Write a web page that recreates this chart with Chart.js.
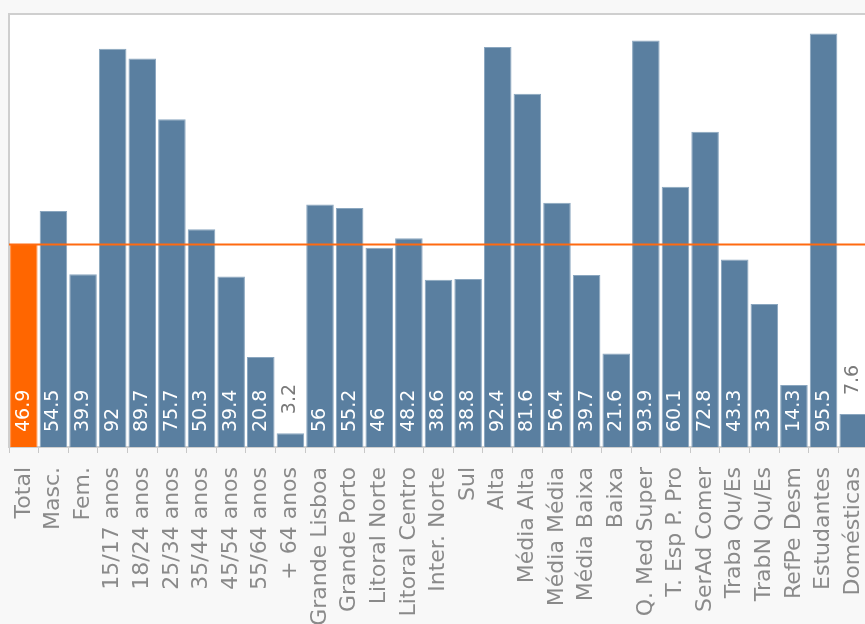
<!DOCTYPE html>
<html>
<head>
<meta charset="utf-8">
<script src="https://cdn.jsdelivr.net/npm/chart.js@4.4.1/dist/chart.umd.min.js"></script>
<style>
  html, body { margin: 0; padding: 0; background: #f8f8f8; overflow: hidden; }
  #wrap { position: absolute; left: 0; top: 0; width: 880px; height: 624px; }
</style>
</head>
<body>
<div id="wrap"><canvas id="c" width="880" height="624"></canvas></div>
<script>
// Categories shown along the x axis
const categories = [
  'Total', 'Masc.', 'Fem.',
  '15/17 anos', '18/24 anos', '25/34 anos', '35/44 anos', '45/54 anos', '55/64 anos', '+ 64 anos',
  'Grande Lisboa', 'Grande Porto', 'Litoral Norte', 'Litoral Centro', 'Inter. Norte', 'Sul',
  'Alta', 'Média Alta', 'Média Média', 'Média Baixa', 'Baixa',
  'Q. Med Super', 'T. Esp P. Pro', 'SerAd Comer', 'Traba Qu/Es', 'TrabN Qu/Es', 'RefPe Desm',
  'Estudantes', 'Domésticas'
];

// Percentage for each category
const values = [
  46.9, 54.5, 39.9,
  92, 89.7, 75.7, 50.3, 39.4, 20.8, 3.2,
  56, 55.2, 46, 48.2, 38.6, 38.8,
  92.4, 81.6, 56.4, 39.7, 21.6,
  93.9, 60.1, 72.8, 43.3, 33, 14.3,
  95.5, 7.6
];

// Reference level drawn as a horizontal line (the overall total)
const totalValue = values[0];

const TOTAL_COLOR = '#ff6600';
const BAR_COLOR = '#5a7fa0';
const FONT = '"DejaVu Sans", Verdana, sans-serif';

// Light page background with a white, framed plot area
const framePlugin = {
  id: 'frame',
  beforeDraw(chart) {
    const { ctx, chartArea: a } = chart;
    ctx.save();
    ctx.fillStyle = '#f8f8f8';
    ctx.fillRect(0, 0, chart.width, chart.height);
    ctx.fillStyle = '#ffffff';
    ctx.fillRect(a.left, a.top, a.right - a.left, a.bottom - a.top);
    ctx.strokeStyle = '#cfcfcf';
    ctx.lineWidth = 2;
    ctx.strokeRect(a.left, a.top, a.right - a.left, a.bottom - a.top);
    ctx.restore();
  }
};

// Horizontal line at the total level, drawn over the bars
const totalLinePlugin = {
  id: 'totalLine',
  afterDatasetsDraw(chart) {
    const { ctx, chartArea: a, scales: { y } } = chart;
    const py = Math.round(y.getPixelForValue(totalValue)) + 0.5;
    ctx.save();
    ctx.strokeStyle = '#ff6a10';
    ctx.lineWidth = 2;
    ctx.beginPath();
    ctx.moveTo(a.left, py);
    ctx.lineTo(a.right, py);
    ctx.stroke();
    ctx.restore();
  }
};

// Vertical value labels: inside the bar near its base, or above it when the bar is too short
const valueLabelPlugin = {
  id: 'valueLabels',
  afterDatasetsDraw(chart) {
    const { ctx } = chart;
    const meta = chart.getDatasetMeta(0);
    ctx.save();
    ctx.font = '19px ' + FONT;
    ctx.textBaseline = 'middle';
    ctx.textAlign = 'left';
    meta.data.forEach((bar, i) => {
      const text = String(values[i]);
      const w = ctx.measureText(text).width;
      const base = bar.base;
      const top = bar.y;
      const h = base - top;
      const pad = 15;
      ctx.save();
      ctx.translate(bar.x, 0);
      ctx.rotate(-Math.PI / 2);
      if (h >= w + pad + 4) {
        ctx.fillStyle = '#ffffff';
        ctx.fillText(text, -(base - pad), 0);
      } else {
        ctx.fillStyle = '#7a7a7a';
        ctx.fillText(text, -(top - 19), 0);
      }
      ctx.restore();
    });
    ctx.restore();
  }
};

new Chart(document.getElementById('c'), {
  type: 'bar',
  data: {
    labels: categories,
    datasets: [{
      data: values,
      backgroundColor: values.map((v, i) => i === 0 ? TOTAL_COLOR : BAR_COLOR),
      borderColor: values.map((v, i) => i === 0 ? '#ff8c40' : '#8aa6bf'),
      borderWidth: 1,
      barPercentage: 0.93,
      categoryPercentage: 1.0
    }]
  },
  options: {
    responsive: false,
    devicePixelRatio: 1,
    animation: false,
    layout: { padding: { left: 9, right: 12, top: 14, bottom: 0 } },
    plugins: { legend: { display: false }, tooltip: { enabled: false } },
    scales: {
      x: {
        offset: true,
        grid: {
          offset: true,
          drawOnChartArea: false,
          drawTicks: true,
          tickLength: 6,
          color: '#c8c8c8'
        },
        border: { display: true, color: '#cfcfcf', width: 2 },
        ticks: {
          autoSkip: false,
          minRotation: 90,
          maxRotation: 90,
          padding: 14,
          color: '#8a8a8a',
          font: { size: 22, family: FONT }
        },
        afterFit(scale) {
          scale.height = 177;
          scale.paddingLeft = 0;
          scale.paddingRight = 0;
        }
      },
      y: {
        display: false,
        min: 0,
        max: 100
      }
    }
  },
  plugins: [framePlugin, totalLinePlugin, valueLabelPlugin]
});
</script>
</body>
</html>
